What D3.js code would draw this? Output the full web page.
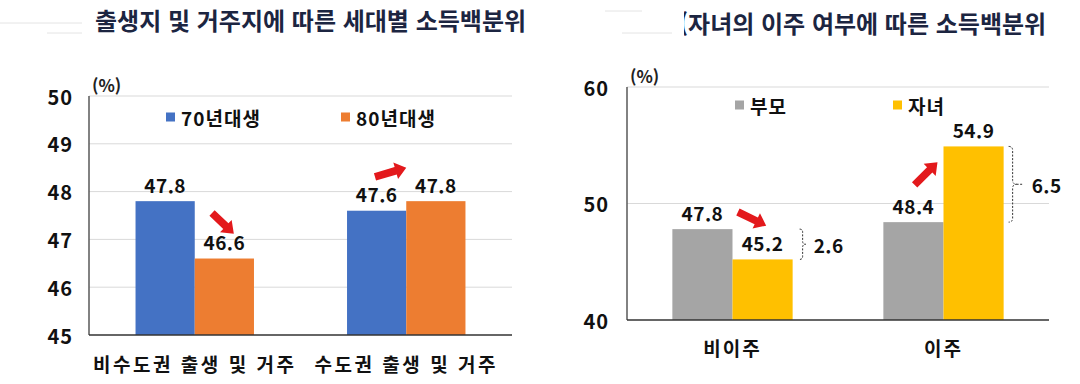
<!DOCTYPE html>
<html lang="ko">
<head>
<meta charset="UTF-8">
<title>소득백분위</title>
<script src="https://cdn.jsdelivr.net/npm/d3@7"></script>
<style>
  body { margin: 0; background: #fff; }
  text { font-family: "Noto Sans CJK KR", "Noto Sans", sans-serif; }
</style>
</head>
<body>
<div id="chart"></div>
<script>
// left chart data
const genCategories = ['비수도권 출생 및 거주', '수도권 출생 및 거주']
const genSeries = ['70년대생', '80년대생']
const gen70 = [47.8, 47.6]
const gen80 = [46.6, 47.8]
const genTicks = [45, 46, 47, 48, 49, 50]

// right chart data
const moveCategories = ['비이주', '이주']
const moveSeries = ['부모', '자녀']
const parentVals = [47.8, 48.4]
const childVals = [45.2, 54.9]
const moveTicks = [40, 50, 60]
const gaps = [2.6, 6.5]

const W = 1080, H = 384
const svg = d3.select('#chart').append('svg').attr('width', W).attr('height', H)

// titles + faint decoration lines
const deco = [[0, 82, 23], [47, 82, 33], [605, 642, 11], [622, 682, 33]]
svg.selectAll('line.deco').data(deco).enter().append('line')
  .attr('x1', d => d[0]).attr('x2', d => d[1]).attr('y1', d => d[2]).attr('y2', d => d[2])
  .attr('stroke', '#e4e4e4').attr('stroke-width', 1)

svg.append('text').attr('x', 95).attr('y', 30)
  .attr('font-size', 24).attr('font-weight', 700).attr('fill', '#1c2541')
  .text('출생지 및 거주지에 따른 세대별 소득백분위')
svg.append('text').attr('x', 679).attr('y', 33)
  .attr('font-size', 24).attr('font-weight', 700).attr('fill', '#1c2541')
  .text('(자녀의 이주 여부에 따른 소득백분위')
svg.append('rect').attr('x', 672).attr('y', 8).attr('width', 12).attr('height', 30).attr('fill', '#fff')

function arrow (g, x1, y1, x2, y2) {
  const dx = x2 - x1, dy = y2 - y1, len = Math.hypot(dx, dy)
  const ux = dx / len, uy = dy / len, px = -uy, py = ux
  const sw = 3.8, hw = 8.5, hl = 11
  const bx = x2 - ux * hl, by = y2 - uy * hl
  const pts = [
    [x1 + px * sw, y1 + py * sw], [bx + px * sw, by + py * sw], [bx + px * hw, by + py * hw],
    [x2, y2], [bx - px * hw, by - py * hw], [bx - px * sw, by - py * sw], [x1 - px * sw, y1 - py * sw]
  ]
  g.append('polygon').attr('points', pts.map(p => p.join(',')).join(' ')).attr('fill', '#e3191c')
}

function drawChart (cfg) {
  const g = svg.append('g')
  const x0 = d3.scaleBand().domain(cfg.categories).range([cfg.left, cfg.right])
    .paddingInner(cfg.pad).paddingOuter(cfg.pad / 2)
  const x1 = d3.scaleBand().domain(cfg.series).range([0, x0.bandwidth()])
  const y = d3.scaleLinear().domain(cfg.domain).range([cfg.bottom, cfg.top])

  // grid
  g.selectAll('line.grid').data(cfg.ticks.slice(1)).enter().append('line')
    .attr('x1', cfg.left).attr('x2', cfg.right)
    .attr('y1', d => y(d)).attr('y2', d => y(d))
    .attr('stroke', '#d9d9d9').attr('stroke-width', 1)

  // tick labels
  g.selectAll('text.tick').data(cfg.ticks).enter().append('text')
    .attr('x', cfg.left - cfg.tickGap).attr('y', d => y(d))
    .attr('text-anchor', 'end').attr('dominant-baseline', 'central')
    .attr('font-size', 20).attr('font-weight', cfg.tickWeight).attr('letter-spacing', 1)
    .attr('fill', '#111')
    .text(d => d)

  g.append('text').attr('x', cfg.left + 3).attr('y', cfg.top - 12)
    .attr('dominant-baseline', 'central')
    .attr('font-size', 17).attr('font-weight', 700).attr('fill', '#222').text('(%)')

  // bars
  const rows = cfg.categories.map((c, i) => cfg.series.map((s, j) => ({ c, s, v: cfg.values[j][i], j })))
  const grp = g.selectAll('g.grp').data(rows).enter().append('g')
    .attr('transform', (d, i) => `translate(${x0(cfg.categories[i])},0)`)
  grp.selectAll('rect').data(d => d).enter().append('rect')
    .attr('x', d => x1(d.s)).attr('width', x1.bandwidth())
    .attr('y', d => y(d.v)).attr('height', d => cfg.bottom - y(d.v))
    .attr('fill', d => cfg.colors[d.j])
  grp.selectAll('text').data(d => d).enter().append('text')
    .attr('x', d => x1(d.s) + x1.bandwidth() / 2).attr('y', d => y(d.v) - 17)
    .attr('text-anchor', 'middle').attr('dominant-baseline', 'central')
    .attr('font-size', 19).attr('font-weight', 700).attr('letter-spacing', 0.5).attr('fill', '#111')
    .text(d => d.v.toFixed(1))

  // axes lines
  g.append('line').attr('x1', cfg.left).attr('x2', cfg.left).attr('y1', cfg.top).attr('y2', cfg.bottom)
    .attr('stroke', '#595959').attr('stroke-width', 1.5)
  g.append('line').attr('x1', cfg.left).attr('x2', cfg.right).attr('y1', cfg.bottom).attr('y2', cfg.bottom)
    .attr('stroke', '#333').attr('stroke-width', 1.5)

  // category labels
  g.selectAll('text.cat').data(cfg.categories).enter().append('text')
    .attr('x', d => x0(d) + x0.bandwidth() / 2).attr('y', cfg.bottom + cfg.catGap)
    .attr('text-anchor', 'middle').attr('dominant-baseline', 'central')
    .attr('font-size', cfg.catSize).attr('font-weight', 700).attr('letter-spacing', cfg.catSpacing)
    .attr('fill', '#111').text(d => d)

  // legend
  cfg.series.forEach((s, j) => {
    const lx = cfg.legendX[j]
    g.append('rect').attr('x', lx).attr('y', cfg.legendY - 4.5).attr('width', 9).attr('height', 9)
      .attr('fill', cfg.colors[j])
    g.append('text').attr('x', lx + 15).attr('y', cfg.legendY)
      .attr('dominant-baseline', 'central').attr('font-size', 19).attr('font-weight', 700)
      .attr('letter-spacing', 1).attr('fill', '#111').text(s)
  })

  // arrows: [category index, fraction across group, value] start -> end
  cfg.arrows.forEach(a => {
    const px = p => x0(cfg.categories[p[0]]) + p[1] * x0.bandwidth()
    arrow(g, px(a[0]), y(a[0][2]), px(a[1]), y(a[1][2]))
  })

  return { g, x0, x1, y }
}

drawChart({
  categories: genCategories, series: genSeries, values: [gen70, gen80],
  colors: ['#4472c4', '#ed7d31'], ticks: genTicks, domain: [45, 50],
  left: 89, right: 512, top: 96, bottom: 335, pad: 0.44,
  tickGap: 16, tickWeight: 700, catGap: 28, catSize: 19, catSpacing: 2.5,
  legendX: [166, 341], legendY: 117,
  arrows: [
    [[0, 0.646, 47.55], [0, 0.83, 47.12]],
    [[1, 0.236, 48.31], [1, 0.5, 48.5]]
  ]
})

const right = drawChart({
  categories: moveCategories, series: moveSeries, values: [parentVals, childVals],
  colors: ['#a5a5a5', '#ffc000'], ticks: moveTicks, domain: [40, 60],
  left: 627, right: 1049, top: 87, bottom: 320, pad: 0.43,
  tickGap: 18, tickWeight: 600, catGap: 27, catSize: 19, catSpacing: 2,
  legendX: [735, 893], legendY: 105,
  arrows: [
    [[0, 0.545, 49.27], [0, 0.78, 48.1]],
    [[1, 0.26, 51.6], [1, 0.45, 53.55]]
  ]
})

// dashed braces showing the parent-child gap
function brace (g, x, y1, y2, w, tick) {
  const ym = (y1 + y2) / 2
  const p = `M${x},${y1} Q${x + w},${y1} ${x + w},${y1 + w} L${x + w},${ym - w} Q${x + w},${ym} ${x + 2 * w},${ym}` +
    ` Q${x + w},${ym} ${x + w},${ym + w} L${x + w},${y2 - w} Q${x + w},${y2} ${x},${y2}` +
    (tick ? ` M${x + 2 * w},${ym} L${x + 2 * w + tick},${ym}` : '')
  g.append('path').attr('d', p).attr('fill', 'none').attr('stroke', '#333')
    .attr('stroke-width', 1).attr('stroke-dasharray', '2,1.5')
  return ym
}
gaps.forEach((gap, i) => {
  const c = moveCategories[i]
  const xr = right.x0(c) + right.x0.bandwidth() + (i === 0 ? 7 : 5)
  const top = right.y(Math.max(parentVals[i], childVals[i]))
  const bot = right.y(Math.min(parentVals[i], childVals[i]))
  const w = i === 0 ? 3 : 4
  const tick = i === 0 ? 0 : 7
  const ym = brace(right.g, xr, top, bot, w, tick)
  right.g.append('text').attr('x', xr + 2 * w + tick + 8).attr('y', ym)
    .attr('dominant-baseline', 'central').attr('font-size', 19).attr('font-weight', 700)
    .attr('letter-spacing', 0.5).attr('fill', '#111').text(gap.toFixed(1))
})
</script>
</body>
</html>
